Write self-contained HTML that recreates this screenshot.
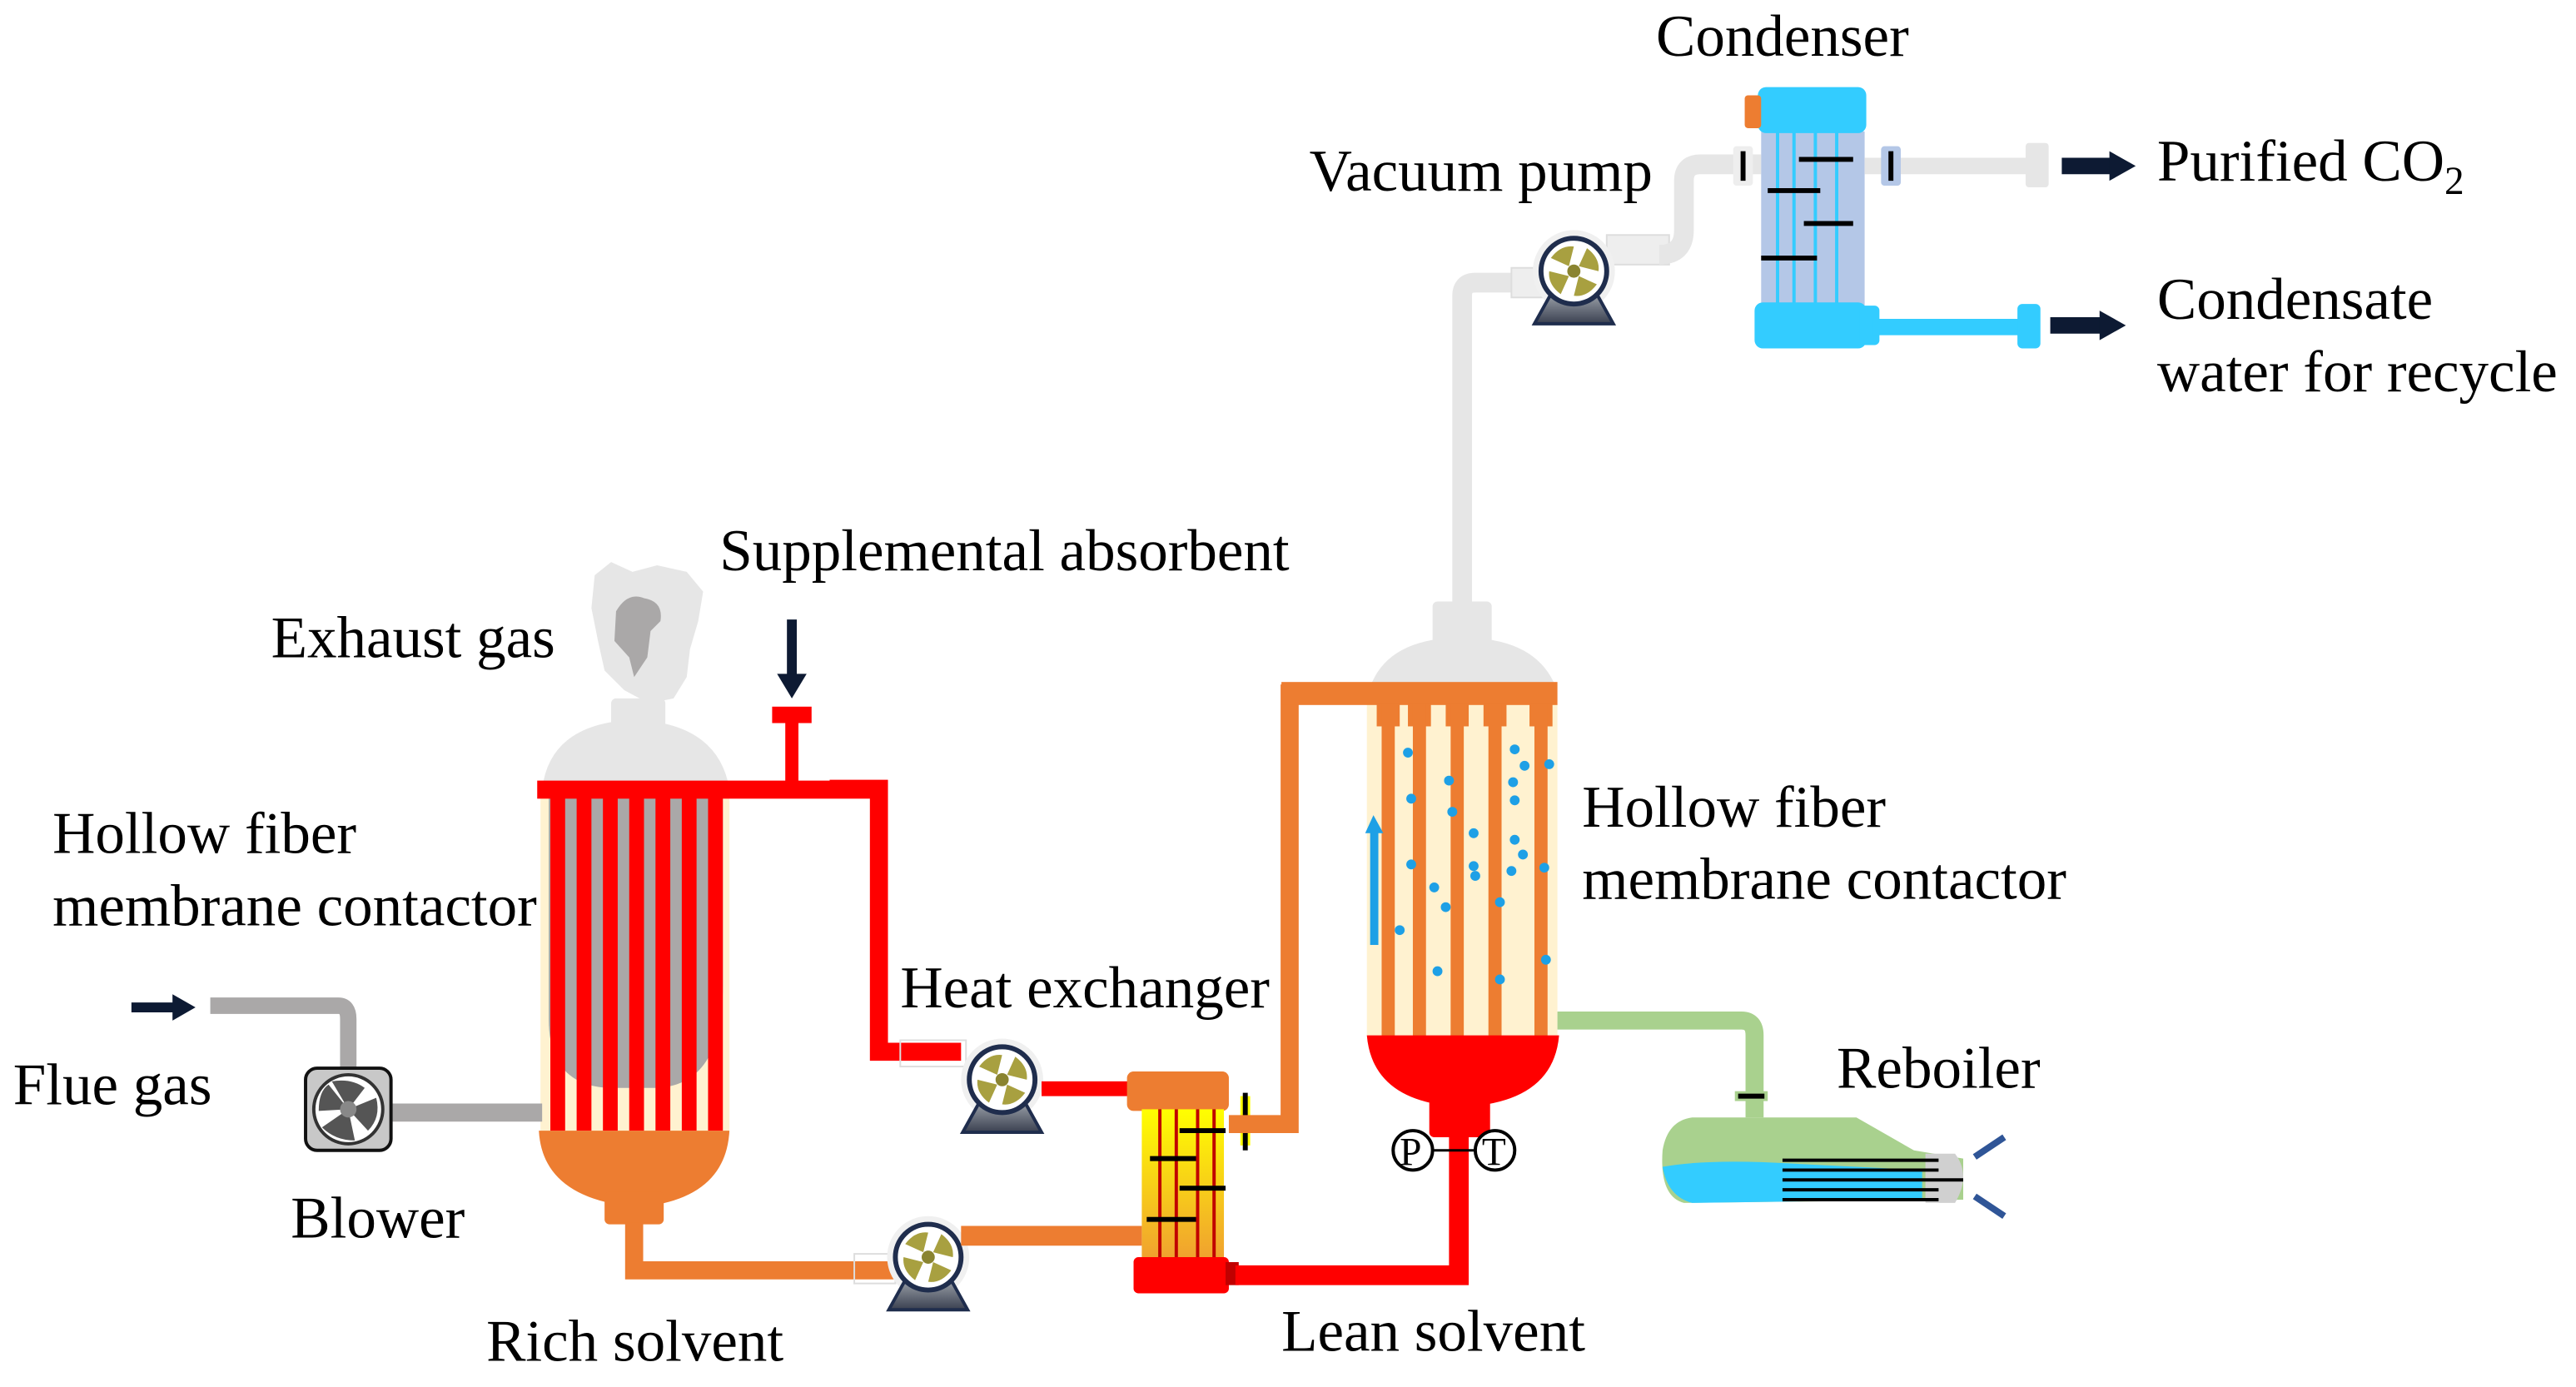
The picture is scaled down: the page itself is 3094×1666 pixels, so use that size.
<!DOCTYPE html>
<html><head><meta charset="utf-8"><style>
html,body{margin:0;padding:0;background:#fff}
svg{display:block}
text{font-family:"Liberation Serif",serif;font-size:36px;fill:#000}
</style></head><body>
<svg width="3094" height="1666" viewBox="0 0 1568 844" preserveAspectRatio="none">
<defs>
<linearGradient id="hx" x1="0" y1="0" x2="0" y2="1"><stop offset="0" stop-color="#ffff00"/><stop offset="1" stop-color="#f0a030"/></linearGradient>
<linearGradient id="pb" x1="0" y1="0" x2="0" y2="1"><stop offset="0" stop-color="#9aa0a8"/><stop offset="1" stop-color="#3a4050"/></linearGradient>
<g id="pump">
<circle cx="0" cy="0" r="25" fill="#f0f0f0"/>
<polygon points="-14,14 14,14 24,32 -24,32" fill="url(#pb)" stroke="#1f2d4d" stroke-width="2"/>
<circle cx="0" cy="0" r="20" fill="#fff" stroke="#1f2d4d" stroke-width="3"/>
<path d="M-3,-3 L-14,-8 Q-8,-16 0,-15 Z M3,-3 L8,-14 Q16,-8 15,0 Z M3,3 L14,8 Q8,16 0,15 Z M-3,3 L-8,14 Q-16,8 -15,0 Z" fill="#a8a040"/>
<circle cx="0" cy="0" r="4" fill="#8a8430"/>
</g>
</defs>

<!-- ===== Left column ===== -->
<path d="M362,350 L372,342 L385,348 L400,344 L418,348 L428,360 L425,378 L420,395 L418,412 L410,425 L395,428 L380,420 L368,408 L364,390 L360,370 Z" fill="#e6e6e6"/>
<path d="M375,372 Q382,360 392,364 Q404,366 402,378 L396,384 L394,400 L386,412 L383,400 L374,390 Z" fill="#aaa8a8"/>
<rect x="372" y="425" width="33" height="25" rx="3" fill="#e6e6e6"/>
<path d="M330,480 Q335,440 386,438 Q437,440 444,480 Z" fill="#e6e6e6"/>
<rect x="329" y="480" width="115" height="210" fill="#fff2d0"/>
<path d="M334,485 L440,485 L440,600 Q440,660 400,662 L370,662 Q334,660 334,620 Z" fill="#aaa8a8"/>
<path d="M328,688 L444,688 Q442,725 400,733 L376,733 Q330,725 328,688 Z" fill="#ed7d31"/>
<rect x="368" y="725" width="36" height="20" rx="3" fill="#ed7d31"/>
<g fill="#ff0000">
<rect x="327" y="475" width="213" height="11"/>
<rect x="335" y="485" width="9" height="203"/><rect x="351" y="485" width="9" height="203"/>
<rect x="367" y="485" width="9" height="203"/><rect x="383" y="485" width="9" height="203"/>
<rect x="399" y="485" width="9" height="203"/><rect x="415" y="485" width="9" height="203"/>
<rect x="431" y="485" width="9" height="203"/>
</g>
<rect x="470" y="430" width="24" height="10" fill="#ff0000"/>
<rect x="478" y="438" width="8" height="40" fill="#ff0000"/>
<path d="M482,377 L482,413" stroke="#0d1a33" stroke-width="6"/>
<polygon points="473,410 491,410 482,425" fill="#0d1a33"/>
<path d="M505,480 L535,480 L535,640 L585,640" fill="none" stroke="#ff0000" stroke-width="11"/>
<rect x="548" y="633" width="40" height="16" fill="none" stroke="#ddd" stroke-width="1"/>
<use href="#pump" x="610" y="657"/>
<rect x="634" y="658" width="55" height="9" fill="#ff0000"/>
<rect x="686" y="652" width="62" height="24" rx="4" fill="#ed7d31"/>
<rect x="695" y="675" width="50" height="92" fill="url(#hx)"/>
<g stroke="#c00000" stroke-width="2"><line x1="706" y1="675" x2="706" y2="767"/><line x1="716" y1="675" x2="716" y2="767"/><line x1="729" y1="675" x2="729" y2="767"/><line x1="739" y1="675" x2="739" y2="767"/></g>
<g stroke="#000" stroke-width="3"><line x1="718" y1="688" x2="746" y2="688"/><line x1="700" y1="705" x2="728" y2="705"/><line x1="718" y1="723" x2="746" y2="723"/><line x1="698" y1="742" x2="728" y2="742"/></g>
<rect x="690" y="765" width="58" height="22" rx="3" fill="#ff0000"/>
<rect x="746" y="768" width="8" height="14" fill="#c00000"/>
<rect x="755" y="667" width="6" height="30" fill="#ffff00"/>
<line x1="758" y1="665" x2="758" y2="700" stroke="#000" stroke-width="3"/>
<path d="M748,684 L785,684 L785,422 L832,422" fill="none" stroke="#ed7d31" stroke-width="11"/>
<path d="M386,744 L386,773 L545,773" fill="none" stroke="#ed7d31" stroke-width="11"/>
<rect x="520" y="763" width="25" height="18" fill="none" stroke="#ddd" stroke-width="1"/>
<use href="#pump" x="565" y="765"/>
<path d="M585,752 L695,752" stroke="#ed7d31" stroke-width="12"/>
<path d="M80,613 L108,613" stroke="#0d1a33" stroke-width="6"/>
<polygon points="105,605 119,613 105,621" fill="#0d1a33"/>
<path d="M128,612 L206,612 Q212,612 212,620 L212,652" fill="none" stroke="#aaa8a8" stroke-width="10"/>
<path d="M238,677 L330,677" stroke="#aaa8a8" stroke-width="11"/>
<rect x="186" y="650" width="52" height="50" rx="7" fill="#c8c8c8" stroke="#111" stroke-width="2"/>
<circle cx="212" cy="675" r="21" fill="#fff" stroke="#333" stroke-width="2"/>
<path d="M212,675 L202,658 Q214,656 222,662 Z M212,675 L229,668 Q232,680 224,688 Z M212,675 L216,694 Q204,694 196,686 Z M212,675 L194,676 Q194,664 200,660 Z" fill="#555"/>
<circle cx="212" cy="675" r="5" fill="#888"/>

<!-- ===== Right column ===== -->
<rect x="872" y="366" width="36" height="28" rx="3" fill="#e6e6e6"/>
<path d="M834,418 Q845,388 890,388 Q935,388 947,418 Z" fill="#e6e6e6"/>
<rect x="832" y="428" width="116" height="202" fill="#fff2d0"/>
<rect x="780" y="415" width="168" height="14" fill="#ed7d31"/>
<g fill="#ed7d31">
<rect x="838" y="428" width="14" height="14"/><rect x="857" y="428" width="14" height="14"/><rect x="880" y="428" width="14" height="14"/><rect x="903" y="428" width="14" height="14"/><rect x="931" y="428" width="14" height="14"/>
<rect x="841" y="428" width="8" height="204"/><rect x="860" y="428" width="8" height="204"/><rect x="883" y="428" width="8" height="204"/><rect x="906" y="428" width="8" height="204"/><rect x="934" y="428" width="8" height="204"/>
</g>
<g fill="#1ea0e6">
<circle cx="857" cy="458" r="3"/><circle cx="882" cy="475" r="3"/><circle cx="859" cy="486" r="3"/><circle cx="884" cy="494" r="3"/><circle cx="897" cy="507" r="3"/><circle cx="859" cy="526" r="3"/><circle cx="898" cy="533" r="3"/><circle cx="880" cy="552" r="3"/><circle cx="852" cy="566" r="3"/><circle cx="875" cy="591" r="3"/><circle cx="913" cy="596" r="3"/><circle cx="922" cy="456" r="3"/><circle cx="928" cy="466" r="3"/><circle cx="921" cy="476" r="3"/><circle cx="943" cy="465" r="3"/><circle cx="922" cy="487" r="3"/><circle cx="922" cy="511" r="3"/><circle cx="927" cy="520" r="3"/><circle cx="920" cy="530" r="3"/><circle cx="940" cy="528" r="3"/><circle cx="897" cy="527" r="3"/><circle cx="913" cy="549" r="3"/><circle cx="941" cy="584" r="3"/><circle cx="873" cy="540" r="3"/>
</g>
<rect x="834" y="505" width="5" height="70" fill="#1ea0e6"/>
<polygon points="831,507 842,507 836,496" fill="#1ea0e6"/>
<path d="M832,630 L949,630 Q946,665 905,672 L875,672 Q835,665 832,630 Z" fill="#ff0000"/>
<rect x="870" y="668" width="37" height="24" rx="3" fill="#ff0000"/>
<path d="M888,690 L888,776 L752,776" fill="none" stroke="#ff0000" stroke-width="12"/>
<line x1="870" y1="700" x2="900" y2="700" stroke="#000" stroke-width="1.5"/>
<circle cx="860" cy="700" r="12" fill="#fff" stroke="#000" stroke-width="2"/>
<circle cx="910" cy="700" r="12" fill="#fff" stroke="#000" stroke-width="2"/>
<text x="852" y="709" style="font-size:24px">P</text>
<text x="902" y="709" style="font-size:24px">T</text>
<path d="M948,621 L1060,621 Q1068,621 1068,630 L1068,680" fill="none" stroke="#a9d18e" stroke-width="11"/>
<rect x="1056" y="664" width="20" height="6" fill="#a9d18e"/>
<line x1="1058" y1="667" x2="1074" y2="667" stroke="#000" stroke-width="3"/>
<path d="M1030,680 L1130,680 L1165,700 L1195,705 L1195,730 L1025,732 Q1010,728 1012,700 Q1015,682 1030,680 Z" fill="#a9d18e"/>
<path d="M1012,710 Q1040,705 1090,708 L1170,712 L1170,730 L1030,732 Q1015,728 1012,710 Z" fill="#33ccff"/>
<path d="M1172,702 L1190,702 Q1200,715 1190,732 L1172,732 Z" fill="#d0d0d0"/>
<g stroke="#000" stroke-width="2"><line x1="1085" y1="706" x2="1180" y2="706"/><line x1="1085" y1="712" x2="1180" y2="712"/><line x1="1085" y1="718" x2="1195" y2="718"/><line x1="1085" y1="724" x2="1180" y2="724"/><line x1="1085" y1="730" x2="1180" y2="730"/></g>
<path d="M1220,692 L1202,704 M1202,728 L1220,740" stroke="#2f5597" stroke-width="4"/>
<path d="M890,366 L890,180 Q890,172 898,172 L940,172" fill="none" stroke="#e6e6e6" stroke-width="12"/>
<rect x="978" y="143" width="38" height="18" fill="#eee" stroke="#ddd"/>
<rect x="920" y="163" width="25" height="18" fill="#eee" stroke="#ddd"/>
<path d="M1010,155 Q1025,155 1025,140 L1025,110 Q1025,100 1035,100 L1072,100" fill="none" stroke="#e6e6e6" stroke-width="12"/>
<use href="#pump" x="958" y="165"/>
<rect x="1072" y="80" width="63" height="106" fill="#b4c7e7"/>
<g stroke="#33ccff" stroke-width="2"><line x1="1082" y1="80" x2="1082" y2="186"/><line x1="1092" y1="80" x2="1092" y2="186"/><line x1="1105" y1="80" x2="1105" y2="186"/><line x1="1118" y1="80" x2="1118" y2="186"/></g>
<g stroke="#000" stroke-width="3"><line x1="1095" y1="97" x2="1128" y2="97"/><line x1="1076" y1="116" x2="1108" y2="116"/><line x1="1098" y1="136" x2="1128" y2="136"/><line x1="1072" y1="157" x2="1106" y2="157"/></g>
<rect x="1070" y="53" width="66" height="28" rx="5" fill="#33ccff"/>
<rect x="1062" y="58" width="10" height="20" rx="2" fill="#ed7d31"/>
<rect x="1068" y="184" width="68" height="28" rx="5" fill="#33ccff"/>
<rect x="1132" y="186" width="12" height="24" rx="3" fill="#33ccff"/>
<rect x="1055" y="89" width="12" height="24" rx="2" fill="#eee"/>
<line x1="1061" y1="92" x2="1061" y2="110" stroke="#000" stroke-width="3"/>
<path d="M1135,101 L1240,101" stroke="#e6e6e6" stroke-width="10"/>
<rect x="1145" y="89" width="12" height="24" rx="2" fill="#b4c7e7"/>
<line x1="1151" y1="92" x2="1151" y2="110" stroke="#000" stroke-width="3"/>
<rect x="1233" y="87" width="14" height="27" rx="2" fill="#e6e6e6"/>
<path d="M1240,199 L1140,199" stroke="#33ccff" stroke-width="10"/>
<rect x="1228" y="185" width="14" height="27" rx="3" fill="#33ccff"/>
<path d="M1255,101 L1288,101" stroke="#0d1a33" stroke-width="10"/>
<polygon points="1284,92 1300,101 1284,110" fill="#0d1a33"/>
<path d="M1248,198 L1282,198" stroke="#0d1a33" stroke-width="10"/>
<polygon points="1278,189 1294,198 1278,207" fill="#0d1a33"/>

<!-- ===== Labels ===== -->
<text x="1008" y="34">Condenser</text>
<text x="797" y="116">Vacuum pump</text>
<text x="1313" y="110">Purified CO<tspan style="font-size:24px" dy="8">2</tspan></text>
<text x="1313" y="194">Condensate</text>
<text x="1313" y="238">water for recycle</text>
<text x="438" y="347">Supplemental absorbent</text>
<text x="165" y="400">Exhaust gas</text>
<text x="32" y="519">Hollow fiber</text>
<text x="32" y="563">membrane contactor</text>
<text x="8" y="672">Flue gas</text>
<text x="177" y="753">Blower</text>
<text x="548" y="613">Heat exchanger</text>
<text x="296" y="828">Rich solvent</text>
<text x="780" y="822">Lean solvent</text>
<text x="963" y="503">Hollow fiber</text>
<text x="963" y="547">membrane contactor</text>
<text x="1118" y="662">Reboiler</text>
</svg>
</body></html>
